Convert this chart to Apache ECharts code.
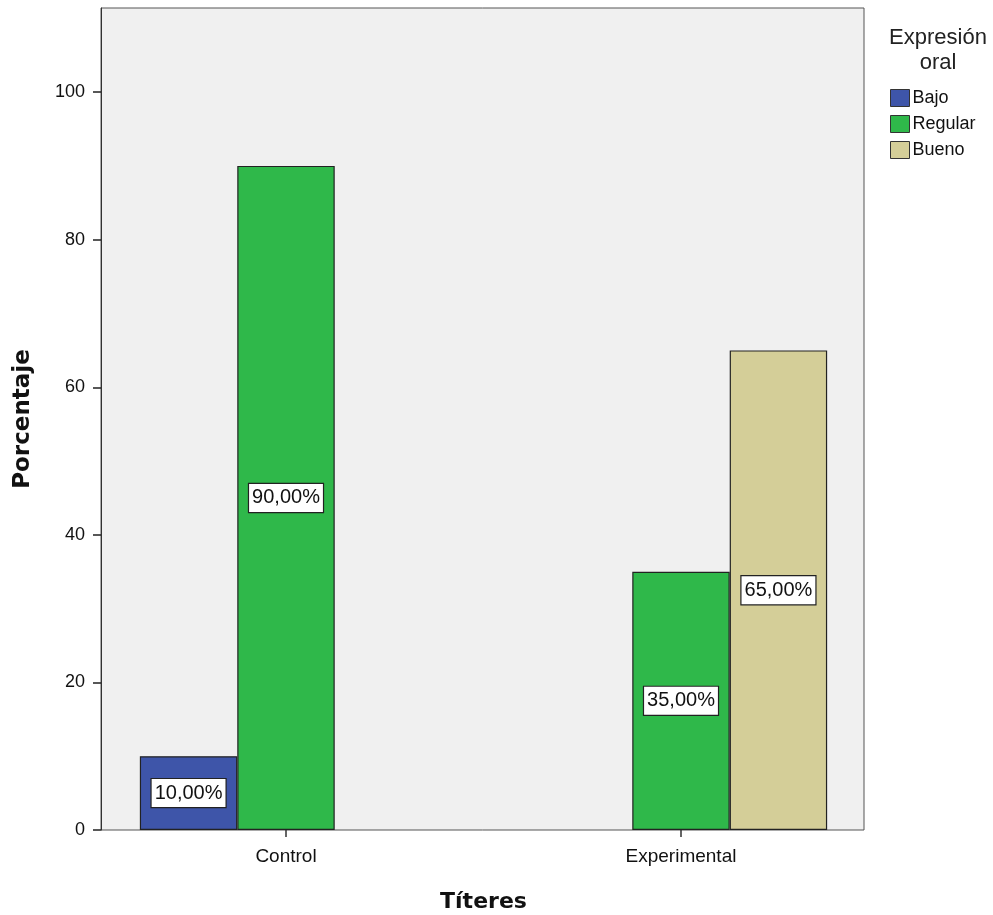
<!DOCTYPE html>
<html><head><meta charset="utf-8">
<script src="https://cdn.jsdelivr.net/npm/echarts@6/dist/echarts.min.js"></script>
<style>html,body{margin:0;padding:0;background:#fff}#c{width:993px;height:915px}</style>
</head><body><div id="c"></div>
<script>
const categories = ['Control', 'Experimental'];
const seriesNames = ['Bajo', 'Regular', 'Bueno'];
const bajo = [10, null];
const regular = [90, 35];
const bueno = [null, 65];
const yTicks = [0, 20, 40, 60, 80, 100];
const colors = ['#3e55a9', '#2fb84a', '#d4ce98'];

const chart = echarts.init(document.getElementById('c'));
const F = 'Liberation Sans, Arial, sans-serif';
const TOP = 8, BOTTOM = 85, YMAX = 111.4;
const label = {
  show: true, position: 'inside',
  formatter: p => p.value.toFixed(2).replace('.', ',') + '%',
  backgroundColor: '#fff', borderColor: '#222', borderWidth: 1.2,
  padding: [5, 3, 3, 3], color: '#111', fontFamily: F, fontSize: 20
};
const data = [bajo, regular, bueno];
chart.setOption({
  animation: false,
  backgroundColor: '#fff',
  grid: [
    {left: 101, right: 129, top: TOP, bottom: BOTTOM, show: true, backgroundColor: '#f0f0f0', borderColor: '#555', borderWidth: 1, containLabel: false, outerBoundsMode: 'none'},
    {left: 88.5, right: 114.5, top: TOP, bottom: BOTTOM, containLabel: false, outerBoundsMode: 'none'}
  ],
  xAxis: [
    {gridIndex: 0, type: 'value', min: 0, max: 1, show: false},
    {gridIndex: 1, type: 'category', data: categories,
     axisLine: {show: false},
     axisTick: {show: true, alignWithLabel: true, length: 7, lineStyle: {color: '#333', width: 1.5}},
     axisLabel: {color: '#111', fontFamily: F, fontSize: 19, margin: 17},
     name: 'Títeres', nameLocation: 'middle', nameGap: 61,
     nameTextStyle: {fontFamily: 'DejaVu Sans', fontWeight: 'bold', fontSize: 22, color: '#111'}}
  ],
  yAxis: [
    {gridIndex: 0, type: 'value', min: 0, max: YMAX,
     axisLine: {show: true, lineStyle: {color: '#333'}},
     axisTick: {show: true, length: 8, lineStyle: {color: '#222', width: 1.5}, customValues: yTicks},
     splitLine: {show: false},
     axisLabel: {color: '#111', fontFamily: F, fontSize: 18, margin: 16, customValues: yTicks},
     name: 'Porcentaje', nameLocation: 'middle', nameGap: 66, nameRotate: 90,
     nameTextStyle: {fontFamily: 'DejaVu Sans', fontWeight: 'bold', fontSize: 23, color: '#111'}},
    {gridIndex: 1, type: 'value', min: 0, max: YMAX, show: false}
  ],
  title: {
    text: 'Expresión\noral', left: 933, top: 20, textAlign: 'center',
    textStyle: {fontFamily: F, fontSize: 22, fontWeight: 'normal', color: '#222', lineHeight: 25}
  },
  legend: {
    orient: 'vertical', left: 885, top: 84, itemWidth: 19, itemHeight: 17, itemGap: 8,
    icon: 'rect', data: seriesNames,
    textStyle: {fontFamily: F, fontSize: 18, color: '#111', padding: [0, 0, 0, -2]},
    itemStyle: {borderColor: '#333', borderWidth: 1}
  },
  series: seriesNames.map((n, i) => ({
    name: n, type: 'bar', xAxisIndex: 1, yAxisIndex: 1,
    data: data[i], barGap: '0%', barCategoryGap: '26%',
    itemStyle: {color: colors[i], borderColor: '#222', borderWidth: 1.2},
    label: label
  }))
});
</script></body></html>
